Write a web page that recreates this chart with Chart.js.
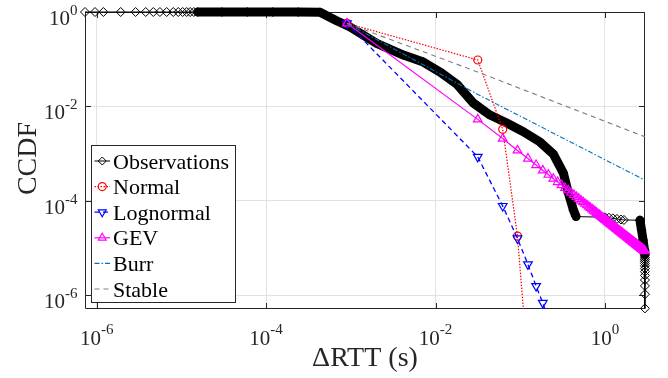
<!DOCTYPE html>
<html>
<head>
<meta charset="utf-8">
<title>CCDF of ΔRTT</title>
<script src="https://cdn.jsdelivr.net/npm/chart.js@4.4.1/dist/chart.umd.min.js"></script>
<style>
  html, body { margin: 0; padding: 0; background: #ffffff; }
  #wrap { width: 668px; height: 378px; }
</style>
</head>
<body>
<div id="wrap"><canvas id="c" width="668" height="378"></canvas></div>
<script>
// ---- Empirical CCDF of ΔRTT (s) ----
const obsX = [
  7.28e-7, 9.55e-7, 1.20e-6, 1.92e-6, 2.88e-6, 3.79e-6, 4.66e-6, 5.58e-6, 6.70e-6, 8.02e-6,
  9.19e-6, 1.035e-5, 1.155e-5, 1.27e-5, 1.40e-5,
  1.56e-5, 3.0e-5, 6.0e-5, 1.2e-4, 2.4e-4, 4.33e-4,
  6.52e-4, 9.8e-4, 2.02e-3, 4.17e-3, 7.18e-3, 0.0113, 0.0178, 0.0279, 0.044, 0.0693,
  0.1089, 0.1714, 0.246, 0.323, 0.37, 0.424, 0.456,
  1.0, 1.114, 1.24, 1.386, 1.545, 1.675,
  2.59, 2.70, 2.82, 2.93, 2.955,
  2.956, 2.957, 2.958, 2.959, 2.960, 2.961, 2.962, 2.963, 2.964, 2.964, 2.965, 2.965, 2.965
];
const obsY = [
  1, 1, 1, 1, 1, 1, 1, 1, 1, 1,
  1, 1, 1, 1, 1,
  1, 1, 0.9995, 0.998, 0.995, 0.985,
  0.676, 0.48, 0.217, 0.1225, 0.087, 0.0534, 0.0297, 0.01175, 0.00654, 0.00442,
  0.00289, 0.00175, 9.73e-4, 3.85e-4, 1.45e-4, 6.32e-5, 4.6e-5,
  4.45e-5, 4.35e-5, 4.22e-5, 4.1e-5, 3.98e-5, 3.9e-5,
  3.85e-5, 2.4e-5, 1.46e-5, 8.95e-6, 7.28e-6,
  6.76e-6, 6.24e-6, 5.72e-6, 5.2e-6, 4.68e-6, 4.16e-6, 3.64e-6, 3.12e-6, 2.6e-6, 2.08e-6, 1.56e-6, 1.04e-6, 5.2e-7
];

// ---- Fitted distributions, evaluated on a common ΔRTT grid ----
const fitX = [
  0.0009, 0.0315, 0.0621, 0.0927, 0.1233, 0.1539, 0.1845, 0.2151, 0.2457, 0.2763,
  0.3069, 0.3375, 0.3681, 0.3987, 0.4293, 0.4599, 0.4905, 0.5211, 0.5517, 0.5823,
  0.6129, 0.6435, 0.6741, 0.7047, 0.7353, 0.7659, 0.7965, 0.8271, 0.8577, 0.8883,
  0.9189, 0.9495, 0.9801, 1.0107, 1.0413, 1.0719, 1.1025, 1.1331, 1.1637, 1.1943,
  1.2249, 1.2555, 1.2861, 1.3167, 1.3473, 1.3779, 1.4085, 1.4391, 1.4697, 1.5003,
  1.5309, 1.5615, 1.5921, 1.6227, 1.6533, 1.6839, 1.7145, 1.7451, 1.7757, 1.8063,
  1.8369, 1.8675, 1.8981, 1.9287, 1.9593, 1.9899, 2.0205, 2.0511, 2.0817, 2.1123,
  2.1429, 2.1735, 2.2041, 2.2347, 2.2653, 2.2959, 2.3265, 2.3571, 2.3877, 2.4183,
  2.4489, 2.4795, 2.5101, 2.5407, 2.5713, 2.6019, 2.6325, 2.6631, 2.6937, 2.7243,
  2.7549, 2.7855, 2.8161, 2.8467, 2.8773, 2.9079, 2.9385, 2.9691
];
const normalY = [0.575, 0.096, 0.00325, 1.78e-5, 3.2e-8];
const lognormalY = [0.575, 8.5e-4, 7.7e-5, 1.58e-5, 4.46e-6, 1.55e-6, 6.8e-7, 3.0e-7, 1.2e-7];
const gevY = [
  0.575, 5.29e-3, 2.07e-3, 1.163e-3, 7.82e-4, 5.69e-4, 4.38e-4, 3.54e-4, 2.92e-4, 2.48e-4,
  2.135e-4, 1.862e-4, 1.65e-4, 1.471e-4, 1.327e-4, 1.202e-4, 1.095e-4, 1.007e-4, 9.28e-5, 8.61e-5,
  7.99e-5, 7.46e-5, 6.99e-5, 6.56e-5, 6.18e-5, 5.83e-5, 5.51e-5, 5.23e-5, 4.96e-5, 4.72e-5,
  4.5e-5, 4.29e-5, 4.11e-5, 3.93e-5, 3.77e-5, 3.61e-5, 3.47e-5, 3.34e-5, 3.22e-5, 3.1e-5,
  2.99e-5, 2.89e-5, 2.79e-5, 2.7e-5, 2.61e-5, 2.53e-5, 2.45e-5, 2.38e-5, 2.31e-5, 2.24e-5,
  2.18e-5, 2.12e-5, 2.06e-5, 2.01e-5, 1.95e-5, 1.9e-5, 1.855e-5, 1.81e-5, 1.765e-5, 1.72e-5,
  1.68e-5, 1.64e-5, 1.61e-5, 1.57e-5, 1.54e-5, 1.5e-5, 1.47e-5, 1.44e-5, 1.41e-5, 1.38e-5,
  1.35e-5, 1.32e-5, 1.3e-5, 1.27e-5, 1.25e-5, 1.226e-5, 1.2e-5, 1.18e-5, 1.16e-5, 1.14e-5,
  1.118e-5, 1.098e-5, 1.08e-5, 1.06e-5, 1.044e-5, 1.026e-5, 1.009e-5, 9.93e-6, 9.77e-6, 9.62e-6,
  9.46e-6, 9.31e-6, 9.18e-6, 9.03e-6, 8.9e-6, 8.77e-6, 8.64e-6, 8.51e-6
];
const burrX = [0.0009, 0.0315, 0.1, 0.3, 1, 2.9691];
const burrY = [0.575, 0.0179, 0.0062, 0.00224, 7.4e-4, 2.72e-4];
const stableX = [0.0009, 0.0315, 0.1, 1, 2.9691];
const stableY = [0.575, 0.0535, 0.0239, 0.00482, 0.00226];

const seriesNames = ['Observations', 'Normal', 'Lognormal', 'GEV', 'Burr', 'Stable'];

// ---- Axes ----
const xTickValues = [1e-6, 1e-4, 1e-2, 1];
const xTickLabels = ['10^-6', '10^-4', '10^-2', '10^0'];
const yTickValues = [1e-6, 1e-4, 1e-2, 1];
const yTickLabels = ['10^-6', '10^-4', '10^-2', '10^0'];
const xTitle = 'ΔRTT (s)';
const yTitle = 'CCDF';
const xLimits = [7.28e-7, 2.97];
const yLimits = [5.05e-7, 1];

const SERIF = '"Liberation Serif", "Times New Roman", "DejaVu Serif", serif';
const AXIS = '#262626';

// Stretches where the samples are so dense that their markers merge into a solid band
const denseRuns = [[15, 37], [44, 48]];
const inDenseRun = (a, b) => denseRuns.some(([s, e]) => a >= s && b <= e);

const pts = (xs, ys) => ys.map((y, i) => ({ x: xs[i], y }));
const hollow = 'rgba(0,0,0,0)';

const datasets = [
  {
    label: seriesNames[0], data: pts(obsX, obsY), order: 6, clip: false,
    borderColor: '#000000', borderWidth: 1, borderJoinStyle: 'round', borderCapStyle: 'round',
    pointStyle: 'rectRot', pointRadius: 4.5, pointBorderWidth: 1,
    pointBorderColor: '#000000', pointBackgroundColor: hollow,
    segment: { borderWidth: ctx => inDenseRun(ctx.p0DataIndex, ctx.p1DataIndex) ? 9 : 1 }
  },
  {
    label: seriesNames[1], data: pts(fitX, normalY), order: 5,
    borderColor: '#ff0000', borderWidth: 1.2, borderDash: [1.5, 1.5],
    pointStyle: 'circle', pointRadius: 4, pointBorderWidth: 1.2,
    pointBorderColor: '#ff0000', pointBackgroundColor: hollow
  },
  {
    label: seriesNames[2], data: pts(fitX, lognormalY), order: 4,
    borderColor: '#0000ff', borderWidth: 1.3, borderDash: [5, 3.5],
    pointStyle: 'triangle', pointRotation: 180, pointRadius: 5, pointBorderWidth: 1.2,
    pointBorderColor: '#0000ff', pointBackgroundColor: hollow
  },
  {
    label: seriesNames[3], data: pts(fitX, gevY), order: 3, clip: false,
    borderColor: '#ff00ff', borderWidth: 1.2,
    pointStyle: 'triangle', pointRadius: 5, pointBorderWidth: 1.2,
    pointBorderColor: '#ff00ff', pointBackgroundColor: hollow
  },
  {
    label: seriesNames[4], data: pts(burrX, burrY), order: 2,
    borderColor: '#0072bd', borderWidth: 1.1, borderDash: [5, 2, 1.5, 2],
    pointRadius: 0
  },
  {
    label: seriesNames[5], data: pts(stableX, stableY), order: 1,
    borderColor: '#808080', borderWidth: 1.1, borderDash: [5, 4],
    pointRadius: 0
  }
];

function drawPower(ctx, label, x, baseY, expY, align) {
  const [b, e] = label.split('^');
  ctx.font = '21px ' + SERIF;
  const wb = ctx.measureText(b).width;
  ctx.font = '15px ' + SERIF;
  const we = ctx.measureText(e).width;
  const start = align === 'right' ? x - wb - we : x - (wb + we) / 2;
  ctx.textAlign = 'left';
  ctx.textBaseline = 'alphabetic';
  ctx.font = '21px ' + SERIF;
  ctx.fillText(b, start, baseY);
  ctx.font = '15px ' + SERIF;
  ctx.fillText(e, start + wb, expY);
}

function drawMarker(ctx, style, x, y, r, rot) {
  ctx.beginPath();
  if (style === 'circle') {
    ctx.arc(x, y, r, 0, Math.PI * 2);
  } else if (style === 'rectRot') {
    ctx.moveTo(x, y - r); ctx.lineTo(x + r, y); ctx.lineTo(x, y + r); ctx.lineTo(x - r, y);
    ctx.closePath();
  } else if (style === 'triangle') {
    const s = rot ? -1 : 1;
    ctx.moveTo(x, y - s * r);
    ctx.lineTo(x + 0.866 * r, y + s * 0.5 * r);
    ctx.lineTo(x - 0.866 * r, y + s * 0.5 * r);
    ctx.closePath();
  }
  ctx.stroke();
}

const frame = {
  id: 'frame',
  beforeDatasetsDraw(chart) {
    const { ctx, chartArea: a, scales } = chart;
    const L = Math.round(a.left) + 0.5, R = Math.round(a.right) - 0.5;
    const T = Math.round(a.top) + 0.5, B = Math.round(a.bottom) - 0.5;
    ctx.save();
    ctx.strokeStyle = AXIS;
    ctx.lineWidth = 1;
    ctx.beginPath();
    ctx.rect(L, T, R - L, B - T);
    // inward ticks on all four sides
    xTickValues.forEach(v => {
      const px = Math.round(scales.x.getPixelForValue(v)) + 0.5;
      ctx.moveTo(px, B); ctx.lineTo(px, B - 5.5);
      ctx.moveTo(px, T); ctx.lineTo(px, T + 5.5);
    });
    yTickValues.forEach(v => {
      const py = Math.round(scales.y.getPixelForValue(v)) + 0.5;
      ctx.moveTo(L, py); ctx.lineTo(L + 5.5, py);
      ctx.moveTo(R, py); ctx.lineTo(R - 5.5, py);
    });
    ctx.stroke();
    ctx.restore();
  },
  afterDraw(chart) {
    const { ctx, chartArea: a, scales } = chart;
    ctx.save();
    ctx.fillStyle = AXIS;
    xTickValues.forEach((v, i) => {
      drawPower(ctx, xTickLabels[i], scales.x.getPixelForValue(v), a.bottom + 36, a.bottom + 25, 'center');
    });
    yTickValues.forEach((v, i) => {
      const py = scales.y.getPixelForValue(v);
      drawPower(ctx, yTickLabels[i], a.left - 7.5, py + 13, py + 3, 'right');
    });
    // axis titles
    ctx.font = '28px ' + SERIF;
    ctx.textAlign = 'center';
    ctx.textBaseline = 'alphabetic';
    ctx.fillText(xTitle, (a.left + a.right) / 2, a.bottom + 57);
    ctx.save();
    ctx.translate(35.5, (a.top + a.bottom) / 2 - 2);
    ctx.rotate(-Math.PI / 2);
    ctx.fillText(yTitle, 0, 0);
    ctx.restore();

    // legend
    const box = { l: a.left + 6.5, t: a.top + 133.5, r: a.left + 150.5, b: a.top + 290.5 };
    ctx.fillStyle = '#ffffff';
    ctx.fillRect(box.l, box.t, box.r - box.l, box.b - box.t);
    ctx.strokeStyle = AXIS;
    ctx.lineWidth = 1;
    ctx.strokeRect(box.l, box.t, box.r - box.l, box.b - box.t);
    chart.data.datasets.forEach((ds, i) => {
      const cy = box.t + 15.5 + i * 25.6;
      const x0 = box.l + 3, x1 = box.l + 18.5, xm = (x0 + x1) / 2;
      ctx.save();
      ctx.strokeStyle = ds.borderColor;
      ctx.lineWidth = i === 0 ? 1 : ds.borderWidth;
      ctx.setLineDash(ds.borderDash || []);
      ctx.beginPath();
      ctx.moveTo(x0, cy); ctx.lineTo(x1, cy);
      ctx.stroke();
      ctx.setLineDash([]);
      if (ds.pointRadius > 0) {
        ctx.lineWidth = ds.pointBorderWidth || 1;
        drawMarker(ctx, ds.pointStyle, xm, cy, ds.pointStyle === 'triangle' ? 4.5 : 4, ds.pointRotation);
      }
      ctx.restore();
      ctx.fillStyle = '#000000';
      ctx.font = '22px ' + SERIF;
      ctx.textAlign = 'left';
      ctx.textBaseline = 'alphabetic';
      ctx.fillText(ds.label, box.l + 21.5, cy + 7.5);
    });
    ctx.restore();
  }
};

new Chart(document.getElementById('c'), {
  type: 'scatter',
  data: { datasets: datasets.map(d => Object.assign({ showLine: true, tension: 0 }, d)) },
  options: {
    responsive: false,
    devicePixelRatio: 1,
    animation: false,
    events: [],
    layout: { padding: { left: 0, top: 12, right: 23, bottom: 0 } },
    plugins: { legend: { display: false }, tooltip: { enabled: false } },
    scales: {
      x: {
        type: 'logarithmic', min: xLimits[0], max: xLimits[1],
        afterBuildTicks: s => { s.ticks = xTickValues.map(v => ({ value: v })); },
        afterFit: s => { s.height = 69; },
        ticks: { display: false },
        grid: { color: '#e2e2e2', lineWidth: 1, drawTicks: false },
        border: { display: false }
      },
      y: {
        type: 'logarithmic', min: yLimits[0], max: yLimits[1],
        afterBuildTicks: s => { s.ticks = yTickValues.map(v => ({ value: v })); },
        afterFit: s => { s.width = 85; },
        ticks: { display: false },
        grid: { color: '#e2e2e2', lineWidth: 1, drawTicks: false },
        border: { display: false }
      }
    }
  },
  plugins: [frame]
});
</script>
</body>
</html>
